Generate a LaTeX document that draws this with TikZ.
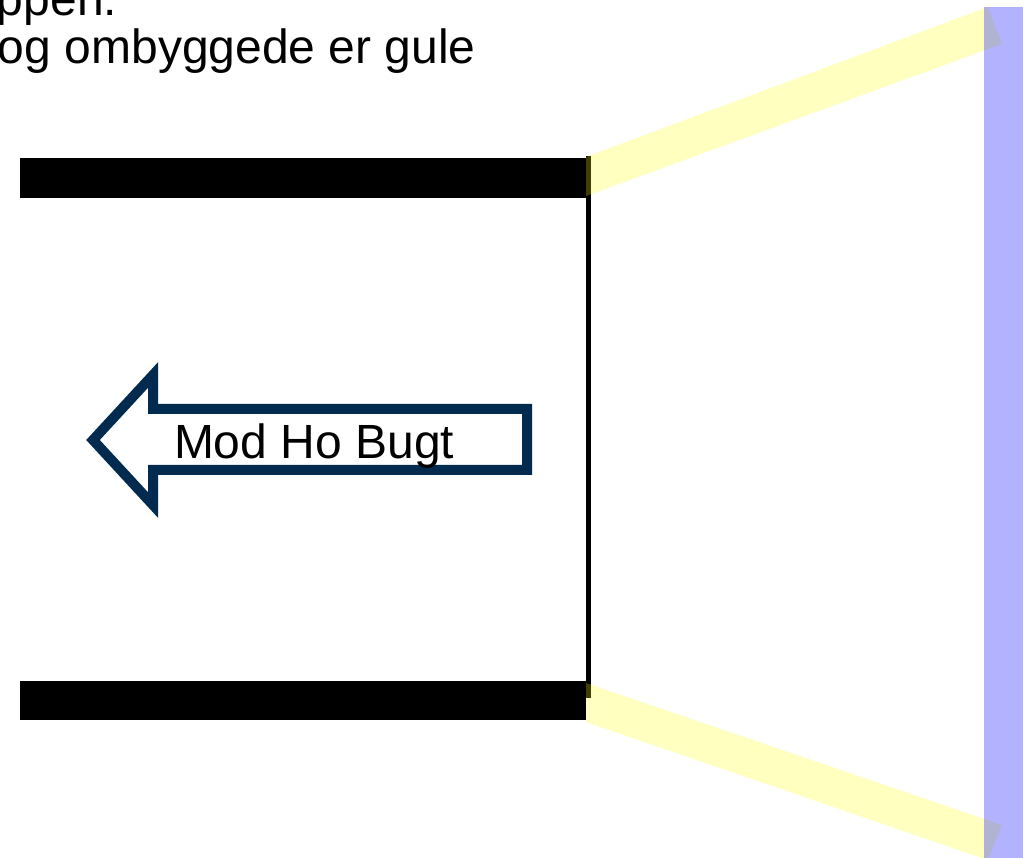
\documentclass[tikz,border=0pt]{standalone}
\usepackage{fontspec}
\setmainfont{Liberation Sans}
\definecolor{navy}{RGB}{0,43,79}
\begin{document}
\begin{tikzpicture}[x=1pt,y=-1pt,
  txt/.style={anchor=base west,inner sep=0pt,outer sep=0pt},
  yband/.style={fill={rgb,255:red,255;green,255;blue,0},fill opacity=0.25},
  bar/.style={fill=black}]
\useasboundingbox (0,0) rectangle (1026,858);
\clip (0,0) rectangle (1026,858);
% black bars
\fill[bar] (20,158) rectangle (586,198);
\fill[bar] (20,681) rectangle (586,720);
\fill[bar] (586,156) rectangle (591,698);
% yellow bands
\fill[yband] (586,157) -- (988,7) -- (1002,44) -- (586,196) -- cycle;
\fill[yband] (586,683) -- (1002,825) -- (988,860) -- (586,722) -- cycle;
% blue bar
\fill[blue,fill opacity=0.3] (984,7) rectangle (1023,858);
% arrow
\draw[navy,line width=10pt,line join=miter,fill=white]
  (527,409) -- (153,409) -- (153,375) -- (93,440) -- (153,505) -- (153,470) -- (527,470) -- cycle;
\node[txt,font=\fontsize{48}{56}\selectfont] (lbl) at (174,459) {Mod Ho Bugt};
% top text
\node[txt,font=\fontsize{48}{56}\selectfont] (t1) at (-3,16) {ppen.};
\node[txt,font=\fontsize{48}{56}\selectfont] (t2) at (-2,64) {og ombyggede er gule};
\end{tikzpicture}
\end{document}
